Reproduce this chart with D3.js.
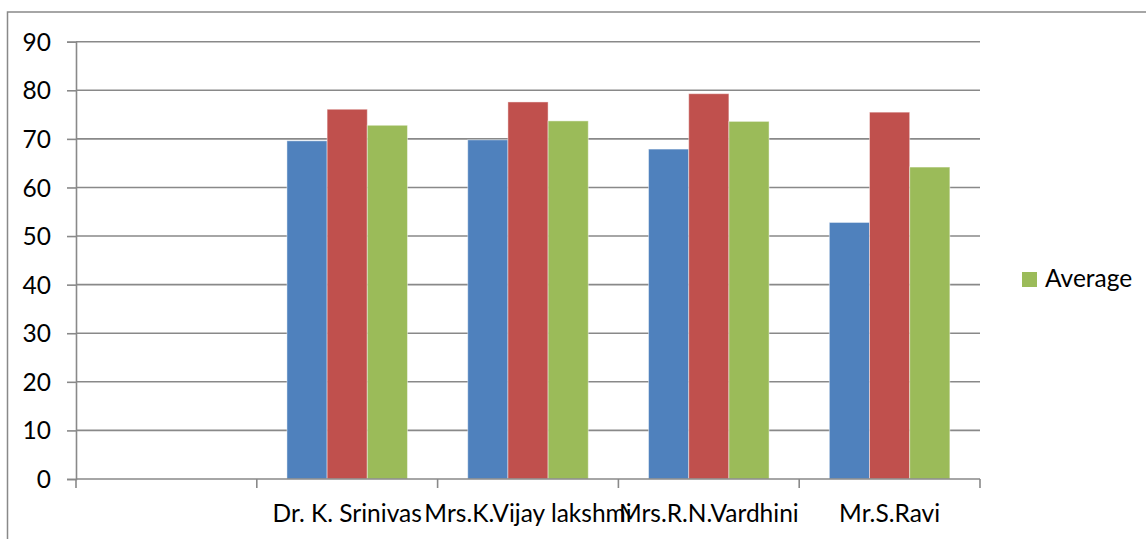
<!DOCTYPE html>
<html>
<head>
<meta charset="utf-8">
<script src="https://cdn.jsdelivr.net/npm/d3@7"></script>
<style>
  body { margin: 0; background: #fff; }
  svg text { font-family: Lato, "Liberation Sans", Arial, sans-serif; fill: #000; }
</style>
</head>
<body>
<div id="chart"></div>
<script>
const categories = ["", "Dr. K. Srinivas", "Mrs.K.Vijay lakshmi", "Mrs.R.N.Vardhini", "Mr.S.Ravi"];
const series = ["Series1", "Series2", "Average"];
const series1 = [null, 69.6, 69.8, 67.9, 52.8];
const series2 = [null, 76.1, 77.6, 79.3, 75.5];
const average = [null, 72.8, 73.7, 73.6, 64.2];
const yTicks = [0, 10, 20, 30, 40, 50, 60, 70, 80, 90];
const colors = ["#4F81BD", "#C0504D", "#9BBB59"];

const width = 1146, height = 539;
const plotLeft = 76, plotRight = 980, plotTop = 41.7, plotBottom = 479;
const gridColor = "#898989";
const fontSize = "24.5px";

const svg = d3.select("#chart").append("svg")
    .attr("width", width)
    .attr("height", height);

// outer chart border
svg.append("rect")
    .attr("x", 7.5).attr("y", 12)
    .attr("width", width + 10).attr("height", height + 10)
    .attr("fill", "none")
    .attr("stroke", gridColor)
    .attr("stroke-width", 1.5);

let x0 = d3.scaleBand()
    .domain(categories)
    .range([plotLeft, plotRight])
    .padding(0);

let x1 = d3.scaleBand()
    .domain(series)
    .range([0, x0.bandwidth()])
    .paddingInner(0)
    .paddingOuter(0.75);

let y = d3.scaleLinear()
    .domain([0, 90])
    .range([plotBottom, plotTop]);

const values = [series1, series2, average];

// gridlines
svg.append("g")
    .selectAll("line")
    .data(yTicks.filter(d => d > 0))
    .enter().append("line")
    .attr("x1", plotLeft).attr("x2", plotRight)
    .attr("y1", d => y(d)).attr("y2", d => y(d))
    .attr("stroke", gridColor)
    .attr("stroke-width", 1.6);

// bars
let rows = categories.map(function (c, i) {
    return {cat: c, vals: series.map((s, j) => ({s: s, j: j, v: values[j][i]}))};
});

svg.append("g")
    .selectAll("g")
    .data(rows)
    .enter().append("g")
    .attr("transform", d => "translate(" + x0(d.cat) + ",0)")
    .selectAll("rect")
    .data(d => d.vals.filter(v => v.v !== null))
    .enter().append("rect")
    .attr("x", d => x1(d.s))
    .attr("width", x1.bandwidth())
    .attr("y", d => y(d.v))
    .attr("height", d => y(0) - y(d.v))
    .attr("fill", d => colors[d.j])
    .attr("stroke", "rgba(255,255,255,0.45)")
    .attr("stroke-width", 1);

// y axis
let yAxis = d3.axisLeft(y)
    .tickValues(yTicks)
    .tickSize(9)
    .tickPadding(16);

let gy = svg.append("g")
    .attr("transform", "translate(" + plotLeft + ",0)")
    .call(yAxis);
gy.select(".domain").attr("stroke", gridColor).attr("stroke-width", 1.6);
gy.selectAll(".tick line").attr("stroke", gridColor).attr("stroke-width", 1.6);
gy.selectAll(".tick text")
    .style("font-size", fontSize)
    .style("font-family", null)
    .attr("dy", "0.35em");

// x axis
let gx = svg.append("g")
    .attr("transform", "translate(0," + plotBottom + ")");
gx.append("line")
    .attr("x1", plotLeft).attr("x2", plotRight)
    .attr("stroke", gridColor).attr("stroke-width", 1.6);

let tickPos = categories.map(c => x0(c)).concat([plotRight]);
gx.selectAll(".xt")
    .data(tickPos)
    .enter().append("line")
    .attr("class", "xt")
    .attr("x1", d => d).attr("x2", d => d)
    .attr("y1", 0).attr("y2", 9)
    .attr("stroke", gridColor).attr("stroke-width", 1.6);

gx.selectAll(".xl")
    .data(categories)
    .enter().append("text")
    .attr("class", "xl")
    .attr("x", d => x0(d) + x0.bandwidth() / 2)
    .attr("y", 43)
    .attr("text-anchor", "middle")
    .style("font-size", fontSize)
    .text(d => d);

// legend (only the Average entry is shown)
let legend = svg.append("g")
    .attr("transform", "translate(1022,272)");
legend.append("rect")
    .attr("width", 15).attr("height", 15)
    .attr("fill", colors[2]);
legend.append("text")
    .attr("x", 23).attr("y", 15)
    .style("font-size", fontSize)
    .text(series[2]);
</script>
</body>
</html>
